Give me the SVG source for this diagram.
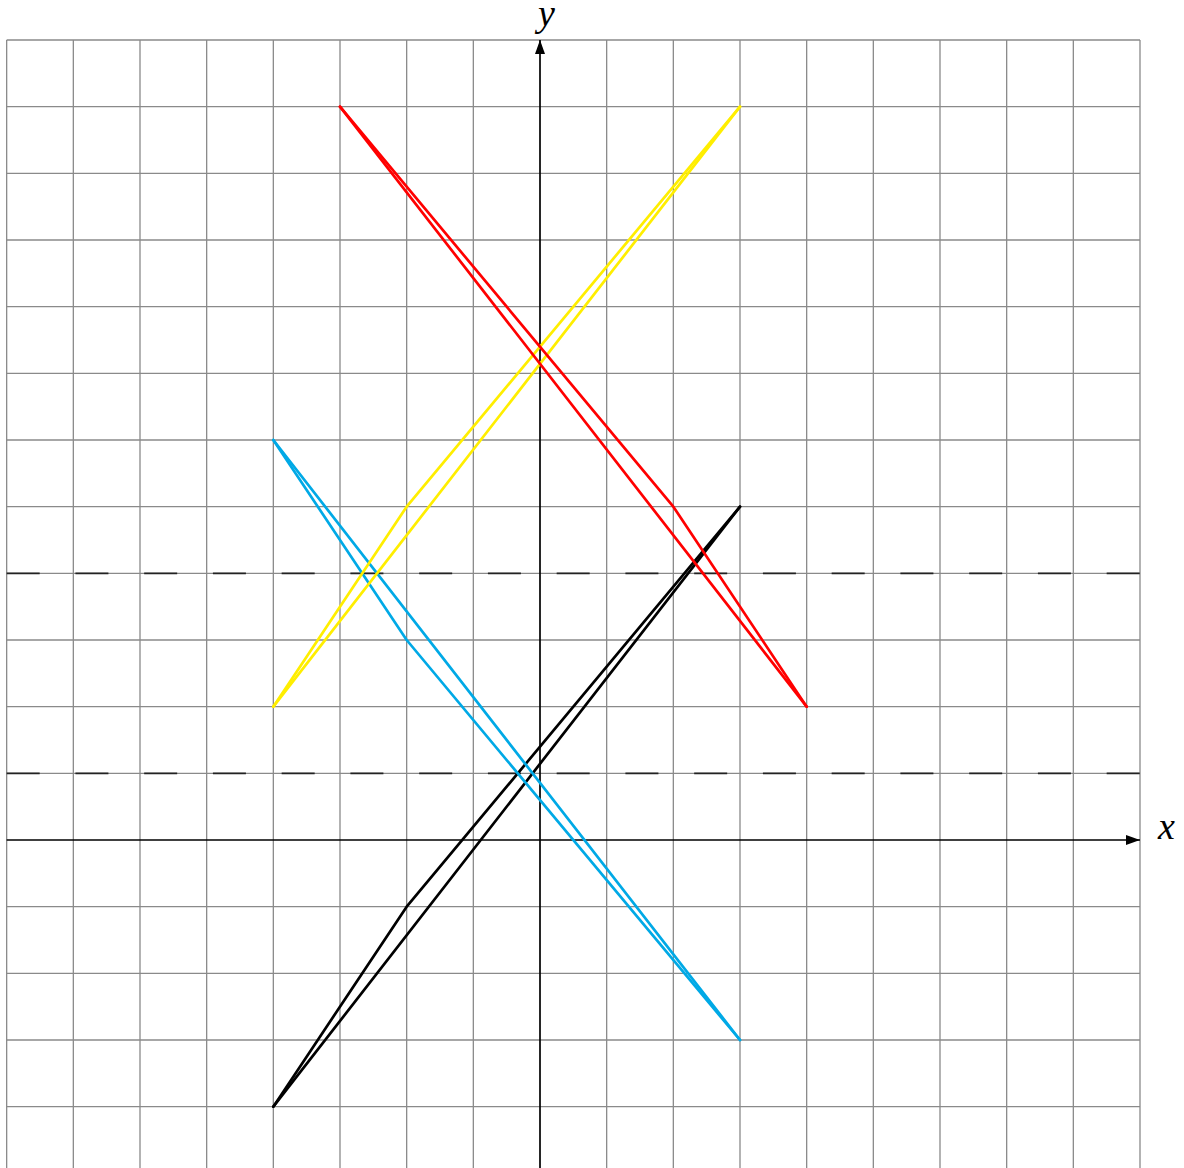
<svg xmlns="http://www.w3.org/2000/svg" width="1184" height="1168" viewBox="0 0 1184 1168">
<style>
.grid{stroke:#8a8a8a;stroke-width:1.3;fill:none}
.axis{stroke:#000;stroke-width:1.7;fill:none}
.dash{stroke:#222;stroke-width:1.6;stroke-dasharray:33 35.75;fill:none}
.c{fill:none;stroke-width:2.7;stroke-linejoin:round;stroke-linecap:round}
.lbl{font-family:"Liberation Serif",serif;font-style:italic;font-size:38px;fill:#000}
</style>
<defs>
<marker id="arr" viewBox="0 0 14 10" refX="14" refY="5" markerWidth="14" markerHeight="10" markerUnits="userSpaceOnUse" orient="auto">
<path d="M0,0 L14,5 L0,10 Z" fill="#000"/>
</marker>
</defs>
<rect width="1184" height="1168" fill="#fff"/>
<g id="grid" class="grid">
<path d="M6.67,40V1168M73.33,40V1168M140,40V1168M206.67,40V1168M273.33,40V1168M340,40V1168M406.67,40V1168M473.33,40V1168M606.67,40V1168M673.33,40V1168M740,40V1168M806.67,40V1168M873.33,40V1168M940,40V1168M1006.67,40V1168M1073.33,40V1168M1140,40V1168"/>
<path d="M6.67,40H1140M6.67,106.67H1140M6.67,173.33H1140M6.67,240H1140M6.67,306.67H1140M6.67,373.33H1140M6.67,440H1140M6.67,506.67H1140M6.67,573.33H1140M6.67,640H1140M6.67,706.67H1140M6.67,773.33H1140M6.67,906.67H1140M6.67,973.33H1140M6.67,1040H1140M6.67,1106.67H1140"/>
</g>
<g id="dashed" class="dash">
<path d="M6.67,573.33H1140"/>
<path d="M6.67,773.33H1140"/>
</g>
<g id="axes" class="axis">
<path d="M6.67,840H1140" marker-end="url(#arr)"/>
<path d="M540,1168V40" marker-end="url(#arr)"/>
</g>
<g id="labels">
<text class="lbl" x="1158" y="839">x</text>
<text class="lbl" x="538" y="26">y</text>
</g>
<g id="connectors">
<g id="black" class="c" stroke="#000">
<polyline points="273.33,1106.67 406.67,906.67 740,506.67"/>
<polyline points="273.33,1106.67 740,506.67"/>
</g>
<g id="blue" class="c" stroke="#00a9e6">
<polyline points="273.33,440 406.67,640 740,1040"/>
<polyline points="273.33,440 740,1040"/>
</g>
<g id="yellow" class="c" stroke="#ffee00">
<polyline points="273.33,706.67 406.67,506.67 740,106.67"/>
<polyline points="273.33,706.67 740,106.67"/>
</g>
<g id="red" class="c" stroke="#ff0000">
<polyline points="340,106.67 673.33,506.67 806.67,706.67"/>
<polyline points="340,106.67 806.67,706.67"/>
</g>
</g>
</svg>
